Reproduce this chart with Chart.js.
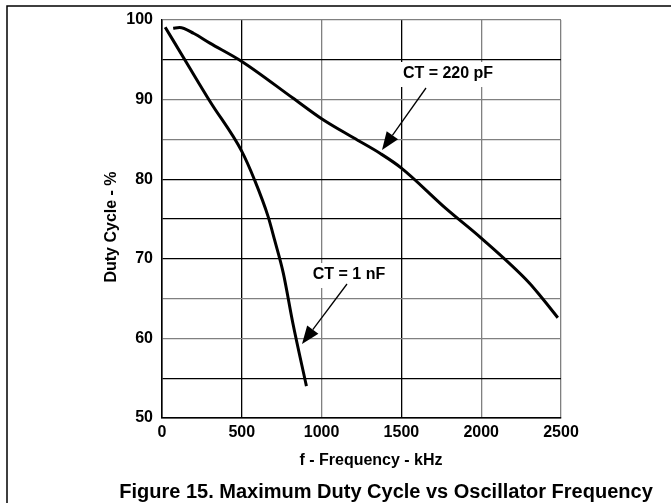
<!DOCTYPE html>
<html>
<head>
<meta charset="utf-8">
<script src="https://cdn.jsdelivr.net/npm/chart.js@4.4.1/dist/chart.umd.min.js"></script>
<style>
  html, body { margin: 0; padding: 0; background: #fff; }
  #wrap { width: 671px; height: 503px; }
</style>
</head>
<body>
<div id="wrap"><canvas id="chart" width="671" height="503"></canvas></div>
<script>
// CT = 220 pF curve
const freq220 = [70, 110, 200, 300, 500, 820, 1000, 1200, 1370, 1500, 1780, 2000, 2300, 2380, 2480];
const duty220 = [98.95, 99.05, 98.3, 97.1, 94.8, 90.2, 87.6, 85.2, 83.2, 81.4, 76.3, 72.6, 67.0, 65.1, 62.6];

// CT = 1 nF curve
const freq1n = [20, 155, 300, 500, 580, 665, 705, 760, 820, 905];
const duty1n = [99.1, 94.6, 89.8, 83.5, 79.9, 75.3, 72.4, 68.2, 61.9, 54.0];

const xTitle = 'f - Frequency - kHz';
const yTitle = 'Duty Cycle - %';
const caption = 'Figure 15. Maximum Duty Cycle vs Oscillator Frequency';

// gridlines that come out gray in the scan
const grayY = [100, 90, 85, 65, 60];
const grayX = [1000, 2000, 2500];

const FONT = '"Liberation Sans", Arial, sans-serif';

function pts(xs, ys) {
    return xs.map((x, i) => ({x: x, y: ys[i]}));
}

function arrow(ctx, x1, y1, x2, y2) {
    const a = Math.atan2(y2 - y1, x2 - x1);
    const len = 18, w = 7;
    const bx = x2 - len * Math.cos(a), by = y2 - len * Math.sin(a);
    ctx.beginPath();
    ctx.moveTo(x1, y1);
    ctx.lineTo(bx, by);
    ctx.lineWidth = 1.3;
    ctx.strokeStyle = '#000';
    ctx.stroke();
    ctx.beginPath();
    ctx.moveTo(x2, y2);
    ctx.lineTo(bx + w * Math.sin(a), by - w * Math.cos(a));
    ctx.lineTo(bx - w * Math.sin(a), by + w * Math.cos(a));
    ctx.closePath();
    ctx.fillStyle = '#000';
    ctx.fill();
}

const decor = {
    id: 'decor',
    afterDraw(chart) {
        const ctx = chart.ctx;
        ctx.save();

        // outer frame (top + left)
        ctx.strokeStyle = '#000';
        ctx.lineWidth = 1.5;
        ctx.beginPath();
        ctx.moveTo(7, 503);
        ctx.lineTo(7, 6);
        ctx.lineTo(671, 6);
        ctx.stroke();

        // annotation labels with white boxes
        ctx.font = 'bold 16px ' + FONT;
        ctx.textAlign = 'center';
        ctx.textBaseline = 'middle';
        const labels = [
            {text: 'CT = 220 pF', cx: 448, cy: 74, from: [426, 88], to: [382, 150]},
            {text: 'CT = 1 nF', cx: 349, cy: 275, from: [347, 284], to: [302, 344]}
        ];
        labels.forEach(l => {
            const w = ctx.measureText(l.text).width + 14;
            ctx.fillStyle = '#fff';
            ctx.fillRect(l.cx - w / 2, l.cy - 12, w, 25);
            ctx.fillStyle = '#000';
            ctx.fillText(l.text, l.cx, l.cy);
            arrow(ctx, l.from[0], l.from[1], l.to[0], l.to[1]);
        });

        // axis titles and caption
        ctx.fillStyle = '#000';
        ctx.font = 'bold 16px ' + FONT;
        ctx.fillText(xTitle, 371, 461);
        ctx.save();
        ctx.translate(112, 227);
        ctx.rotate(-Math.PI / 2);
        ctx.fillText(yTitle, 0, 0);
        ctx.restore();
        ctx.font = 'bold 20px ' + FONT;
        ctx.fillText(caption, 386, 492);
        ctx.restore();
    }
};

const lineStyle = {
    borderColor: '#000',
    borderWidth: 3,
    pointRadius: 0,
    showLine: true,
    fill: false,
    cubicInterpolationMode: 'monotone'
};

new Chart(document.getElementById('chart'), {
    type: 'scatter',
    data: {
        datasets: [
            Object.assign({label: 'CT = 220 pF', data: pts(freq220, duty220)}, lineStyle),
            Object.assign({label: 'CT = 1 nF', data: pts(freq1n, duty1n)}, lineStyle)
        ]
    },
    options: {
        responsive: false,
        animation: false,
        layout: {padding: {top: 20, right: 110, bottom: 0, left: 0}},
        plugins: {
            legend: {display: false},
            tooltip: {enabled: false}
        },
        scales: {
            x: {
                type: 'linear',
                min: 0,
                max: 2500,
                afterFit: s => { s.height = 85; },
                ticks: {
                    stepSize: 500,
                    color: '#000',
                    padding: 5,
                    maxRotation: 0,
                    font: {family: FONT, size: 16, weight: 'bold'},
                    callback: v => String(v)
                },
                grid: {
                    drawTicks: false,
                    lineWidth: 1.3,
                    color: c => grayX.includes(c.tick.value) ? '#808080' : '#000'
                },
                border: {display: true, color: '#000', width: 1.5}
            },
            y: {
                type: 'linear',
                min: 50,
                max: 100,
                afterFit: s => { s.width = 162; },
                ticks: {
                    stepSize: 5,
                    color: '#000',
                    padding: 9,
                    font: {family: FONT, size: 16, weight: 'bold'},
                    callback: v => v % 10 === 0 ? String(v) : ''
                },
                grid: {
                    drawTicks: false,
                    lineWidth: 1.3,
                    color: c => grayY.includes(c.tick.value) ? '#808080' : '#000'
                },
                border: {display: true, color: '#000', width: 1.5}
            }
        }
    },
    plugins: [decor]
});
</script>
</body>
</html>
